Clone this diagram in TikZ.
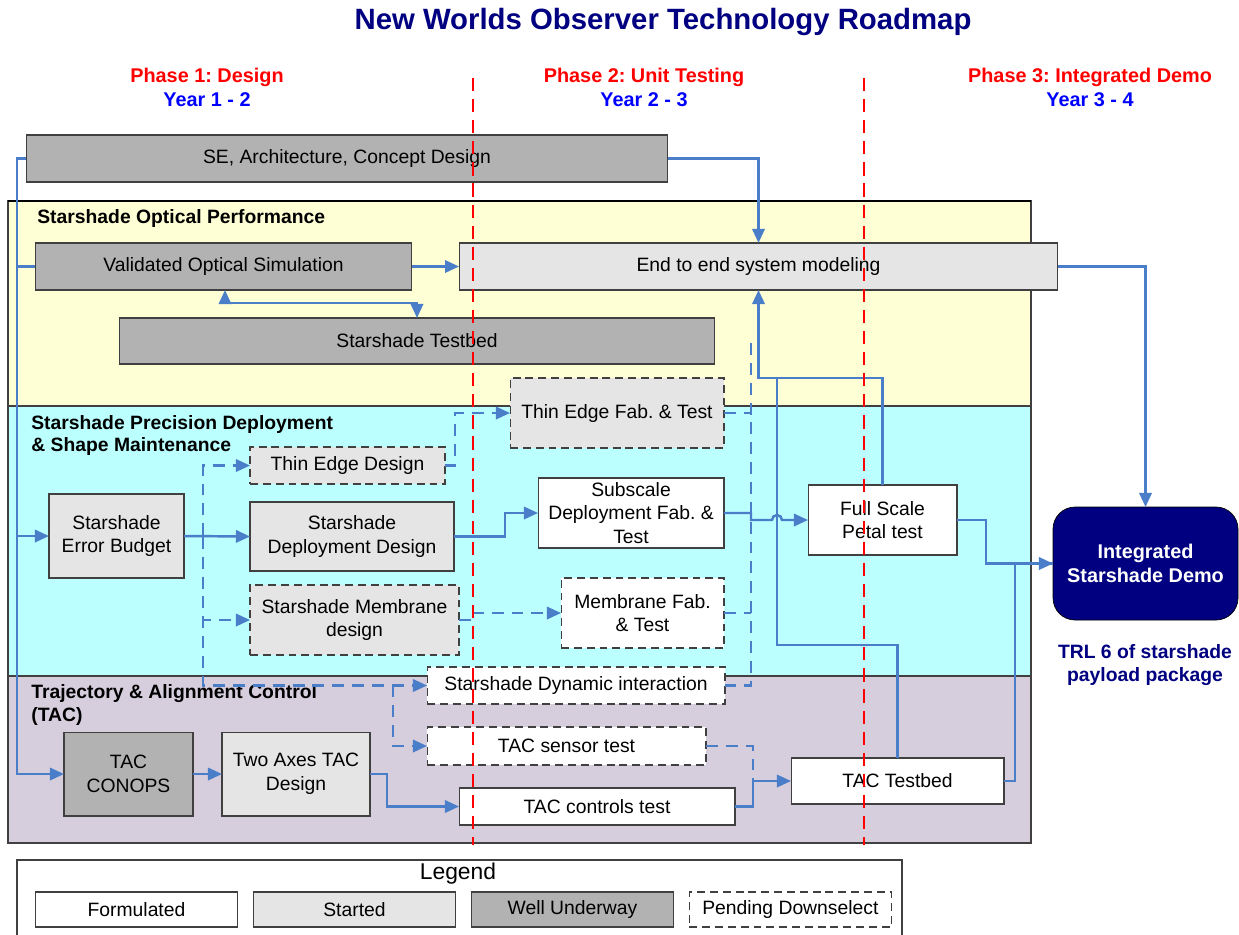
\documentclass[tikz,border=0pt]{standalone}
\usepackage{fontspec}
\setmainfont{Liberation Sans}
\frenchspacing
\usetikzlibrary{positioning}
\usetikzlibrary{arrows.meta}

\definecolor{navy}{RGB}{0,0,128}
\definecolor{flowblue}{RGB}{74,126,200}
\definecolor{wellgray}{RGB}{178,178,178}
\definecolor{startgray}{RGB}{229,229,229}
\definecolor{edgegray}{RGB}{64,64,64}
\definecolor{optyellow}{RGB}{255,255,213}
\definecolor{depcyan}{RGB}{187,255,255}
\definecolor{taclilac}{RGB}{214,206,221}

\begin{document}
\begin{tikzpicture}[x=0.02cm,y=-0.02cm,>={Triangle[length=8pt,width=7pt]},font=\fontsize{11}{13.5}\selectfont,
	task/.style={draw=edgegray,line width=0.6pt,inner sep=1pt,outer sep=0pt,align=center},
	formulated/.style={task,fill=white},
	started/.style={task,fill=startgray},
	underway/.style={task,fill=wellgray},
	downselect/.style={dash pattern=on 4.5pt off 2.8pt},
	flow/.style={->,draw=flowblue,line width=1.4pt},
	maybeflow/.style={flow,dash pattern=on 6.8pt off 4.5pt},
	phaseline/.style={red,line width=1.2pt,dash pattern=on 7.5pt off 4.5pt},
	phasetxt/.style={font=\bfseries\fontsize{11.3}{13}\selectfont},
	band/.style={draw=edgegray,line width=0.6pt},
	bandtitle/.style={anchor=west,align=left,font=\bfseries\fontsize{11}{13}\selectfont,inner sep=0pt}]
	\useasboundingbox (0,0) rectangle (1239,934);

	\node [font=\bfseries\fontsize{16.7}{20}\selectfont,text=navy] (title) at (663,22) {New Worlds Observer Technology Roadmap};
	\node [phasetxt,text=red] (phase1) at (207,77) {Phase 1: Design};
	\node [phasetxt,text=blue] (years1) at (207,100) {Year 1 - 2};
	\node [phasetxt,text=red] (phase2) at (644,77) {Phase 2: Unit Testing};
	\node [phasetxt,text=blue] (years2) at (644,100) {Year 2 - 3};
	\node [phasetxt,text=red] (phase3) at (1090,77) {Phase 3: Integrated Demo};
	\node [phasetxt,text=blue] (years3) at (1090,100) {Year 3 - 4};

	\draw [band,fill=optyellow] (8,201) rectangle (1031,406);
	\draw [band,fill=depcyan] (8,406) rectangle (1031,676);
	\draw [band,fill=taclilac] (8,676) rectangle (1031,843);
	\draw [black,line width=0.6pt] (8,201) -- (1031,201);
	\node [bandtitle] (optperf) at (37,218) {Starshade Optical Performance};
	\node [bandtitle] (precdep) at (31,435.5) {Starshade Precision Deployment\\\& Shape Maintenance};
	\node [bandtitle] (tacarea) at (31,705) {Trajectory \& Alignment Control\\(TAC)};

	\node [underway,minimum width=12.84cm,minimum height=0.94cm] (se) at (347,158.5) {SE, Architecture, Concept Design};
	\node [underway,minimum width=7.54cm,minimum height=0.94cm] (valid) at (223.5,266.5) {Validated Optical Simulation};
	\node [underway,minimum width=11.92cm,minimum height=0.92cm] (testbed) at (417,341) {Starshade Testbed};
	\node [started,minimum width=11.98cm,minimum height=0.94cm] (e2e) at (758.5,266.5) {End to end system modeling};

	\node [started,downselect,minimum width=4.28cm,minimum height=1.4cm] (thinfab) at (617,413) {Thin Edge Fab. \& Test};
	\node [started,downselect,minimum width=3.9cm,minimum height=0.74cm] (thindes) at (347.5,465.5) {Thin Edge Design};
	\node [started,minimum width=2.7cm,minimum height=1.68cm] (errb) at (116.5,536) {Starshade\\Error Budget};
	\node [started,minimum width=4.08cm,minimum height=1.38cm] (depdes) at (352,536.5) {Starshade\\Deployment Design};
	\node [started,downselect,minimum width=4.18cm,minimum height=1.4cm] (memdes) at (354.5,620) {Starshade Membrane\\design};
	\node [formulated,minimum width=3.72cm,minimum height=1.4cm] (subfab) at (631,513) {Subscale\\Deployment Fab. \&\\Test};
	\node [formulated,downselect,minimum width=3.26cm,minimum height=1.4cm] (memfab) at (642.5,613) {Membrane Fab.\\\& Test};
	\node [formulated,minimum width=2.98cm,minimum height=1.4cm] (petal) at (882.5,520) {Full Scale\\Petal test};

	\node [draw=black,fill=navy,text=white,font=\bfseries\fontsize{11.3}{13.6}\selectfont,align=center,rounded corners=0.44cm,minimum width=3.7cm,minimum height=2.26cm,outer sep=0pt] (demo) at (1145.5,563.5) {Integrated\\Starshade Demo};
	\node [font=\bfseries\fontsize{11}{13.6}\selectfont,text=navy,align=center] (trl) at (1145,665) {TRL 6 of starshade\\payload package};

	\node [formulated,downselect,minimum width=5.96cm,minimum height=0.74cm] (dyn) at (576,685.5) {Starshade Dynamic interaction};
	\node [formulated,downselect,minimum width=5.58cm,minimum height=0.76cm] (sensor) at (566.5,746) {TAC sensor test};
	\node [formulated,minimum width=5.52cm,minimum height=0.74cm] (ctrl) at (597,806.5) {TAC controls test};
	\node [formulated,minimum width=4.26cm,minimum height=0.92cm] (tactb) at (897.5,781) {TAC Testbed};
	\node [underway,minimum width=2.58cm,minimum height=1.68cm] (conops) at (128.5,774) {TAC\\CONOPS};
	\node [started,minimum width=2.96cm,minimum height=1.68cm] (twoax) at (296,774) {Two Axes TAC\\Design};

	\draw [edgegray,line width=0.6pt] (17,940) |- (902,860) -- (902,940);
	\node [font=\fontsize{13}{15}\selectfont] (legend) at (458,874) {Legend};
	\node [formulated,minimum width=4.04cm,minimum height=0.7cm] (legf) at (136.5,909.5) {Formulated};
	\node [started,minimum width=4.04cm,minimum height=0.7cm,right=0.32cm of legf] (legs) {Started};
	\node [underway,minimum width=4.04cm,minimum height=0.7cm,right=0.32cm of legs] (legw) {Well Underway};
	\node [formulated,downselect,minimum width=4.04cm,minimum height=0.7cm,right=0.32cm of legw] (legp) {Pending Downselect};

	\coordinate (trunk) at (17,158.5);
	\coordinate (collect) at (751,343);
	\coordinate (tbbend) at (777,645);
	\path (e2e.south) ++(0,88) coordinate (join);

	\draw [maybeflow] (errb.east) -- ++(19,0) |- (thindes.west);
	\draw [maybeflow] (errb.east) -- ++(19,0) |- (memdes.west);
	\draw [maybeflow] (errb.east) -- ++(19,0) |- (dyn.west);
	\draw [maybeflow] ([xshift=-0.68cm]dyn.west) |- (sensor.west);
	\draw [maybeflow] (thindes.east) -- ++(10,0) |- (thinfab.west);
	\draw [maybeflow] (memdes.east) -- ++(14,0) |- (memfab.west);
	\draw [maybeflow,-] (collect) -- (collect |- dyn.east) -- (dyn.east);
	\draw [maybeflow,-] (thinfab.east) -- (collect |- thinfab.east);
	\draw [maybeflow,-] (memfab.east) -- (collect |- memfab.east);
	\draw [maybeflow,-] (sensor.east) -| ([xshift=-0.76cm]tactb.west);

	\draw [flow] (se.west) -- (trunk) |- (conops.west);
	\draw [flow,-] (trunk |- valid.west) -- (valid.west);
	\draw [flow] (trunk |- errb.west) -- (errb.west);
	\draw [flow] (se.east) -| (e2e.north);
	\draw [flow] (valid.east) -- (e2e.west);
	\draw [flow,<->] ([xshift=3.8cm]valid.south west) -- ++(0,13) -| (testbed.north);
	\draw [flow] (petal.north) |- (join) -- (e2e.south);
	\draw [flow,-] (tactb.north) |- (tbbend) |- (join);
	\draw [flow] (errb.east) -- (depdes.west);
	\draw [flow] (depdes.east) -- ++(51,0) |- (subfab.west);
	\draw [flow] (subfab.east) -- ++(27,0) -- ++(0,7) -- ++(21,0) arc[start angle=180,end angle=0,radius=0.1cm] -- (petal.west);
	\draw [flow] (petal.east) -- ++(29,0) |- (demo.west);
	\draw [flow,-] (tactb.east) -- ++(11,0) |- (demo.west);
	\draw [flow] (e2e.east) -| (demo.north);
	\draw [flow] (conops.east) -- (twoax.west);
	\draw [flow] (twoax.east) -- ++(17,0) |- (ctrl.west);
	\draw [flow] (ctrl.east) -- ++(18,0) |- (tactb.west);

	\foreach \px in {473,864}
		\draw [phaseline] (\px,78) -- (\px,845);
\end{tikzpicture}
\end{document}
